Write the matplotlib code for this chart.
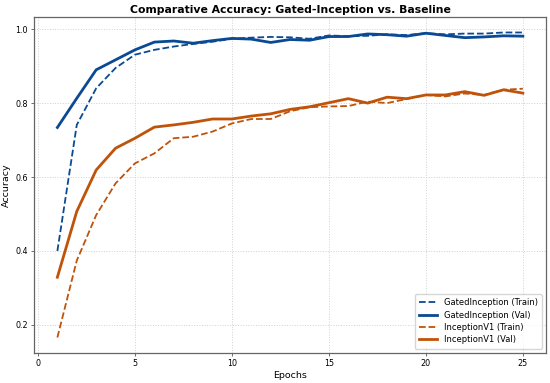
import matplotlib
matplotlib.use("Agg")
import matplotlib.pyplot as plt

epochs = list(range(1, 26))

gated_train = [0.400, 0.741, 0.840, 0.895, 0.931, 0.944, 0.953, 0.960, 0.966, 0.974,
               0.977, 0.979, 0.978, 0.974, 0.983, 0.981, 0.982, 0.986, 0.984, 0.989,
               0.986, 0.988, 0.988, 0.991, 0.991]
gated_val = [0.734, 0.813, 0.890, 0.917, 0.944, 0.965, 0.968, 0.962, 0.969, 0.975,
             0.973, 0.964, 0.972, 0.970, 0.980, 0.980, 0.987, 0.985, 0.981, 0.989,
             0.983, 0.977, 0.979, 0.982, 0.981]
incep_train = [0.166, 0.374, 0.497, 0.583, 0.637, 0.664, 0.705, 0.709, 0.723, 0.745,
               0.757, 0.757, 0.778, 0.789, 0.791, 0.792, 0.804, 0.800, 0.811, 0.822,
               0.818, 0.826, 0.822, 0.836, 0.839]
incep_val = [0.329, 0.507, 0.619, 0.678, 0.705, 0.735, 0.741, 0.748, 0.757, 0.757,
             0.765, 0.771, 0.783, 0.790, 0.801, 0.812, 0.800, 0.816, 0.812, 0.822,
             0.822, 0.831, 0.821, 0.836, 0.827]

BLUE = "#0A4A94"
ORANGE = "#C0530A"

fig, ax = plt.subplots(figsize=(5.5, 3.83), dpi=100)

ax.plot(epochs, gated_train, "--", color=BLUE, lw=1.3, label="GatedInception (Train)")
ax.plot(epochs, gated_val, "-", color=BLUE, lw=2.0, label="GatedInception (Val)")
ax.plot(epochs, incep_train, "--", color=ORANGE, lw=1.3, label="InceptionV1 (Train)")
ax.plot(epochs, incep_val, "-", color=ORANGE, lw=2.0, label="InceptionV1 (Val)")

ax.set_title("Comparative Accuracy: Gated-Inception vs. Baseline",
             fontsize=7.8, fontweight="bold", pad=3)
ax.set_xlabel("Epochs", fontsize=6.8, labelpad=2)
ax.set_ylabel("Accuracy", fontsize=6.8, labelpad=3)
ax.set_xticks([0, 5, 10, 15, 20, 25])
ax.set_yticks([0.2, 0.4, 0.6, 0.8, 1.0])
ax.tick_params(labelsize=5.8, length=2.5, width=0.6, pad=2, color="#555555")
ax.grid(True, linestyle=":", color="#d0d0d0", linewidth=0.7)
for s in ax.spines.values():
    s.set_color("#666666")
    s.set_linewidth(0.9)

ax.legend(loc="lower right", fontsize=6.0, frameon=True, handlelength=2.2,
          borderpad=0.5, labelspacing=0.4)

fig.subplots_adjust(left=0.062, right=0.993, top=0.955, bottom=0.079)
fig.savefig("out.png", dpi=100)
